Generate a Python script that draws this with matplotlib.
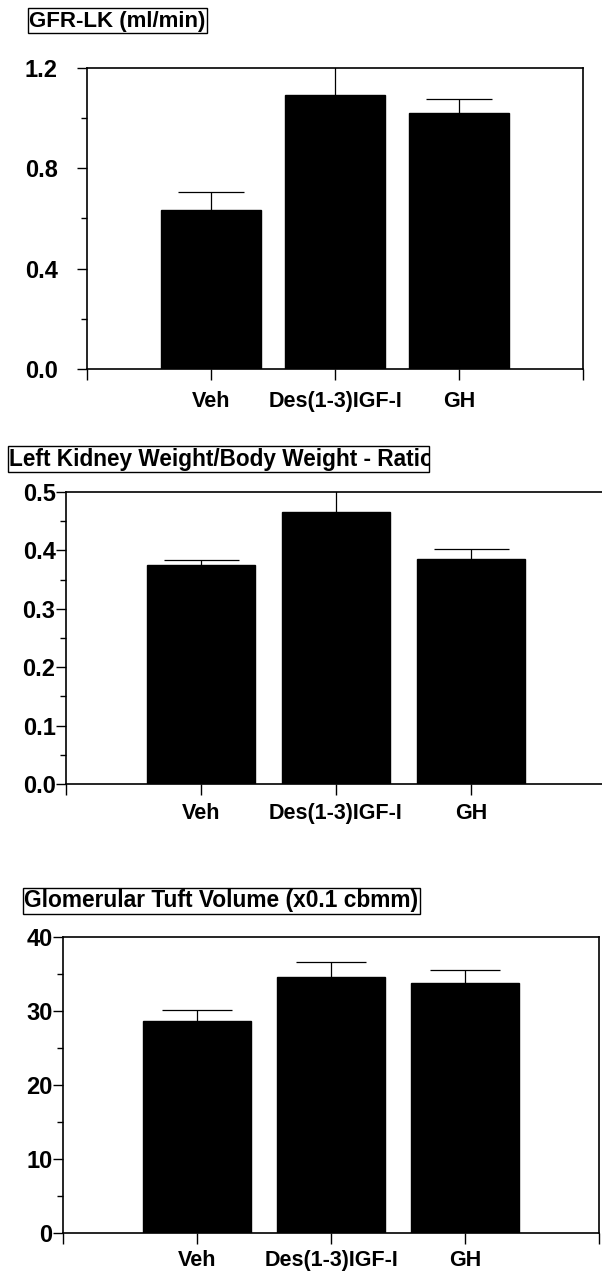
import matplotlib
matplotlib.use("Agg")
import matplotlib.pyplot as plt
from matplotlib.ticker import MultipleLocator, FormatStrFormatter
from matplotlib.patches import Rectangle

plt.rcParams['font.family'] = ['Liberation Sans', 'DejaVu Sans']
plt.rcParams['font.weight'] = 'bold'

# data
groups = ['Veh', 'Des(1-3)IGF-I', 'GH']
gfr = [0.632, 1.092, 1.02]
gfr_sem = [0.072, 0.14, 0.056]
kidney_ratio = [0.375, 0.465, 0.385]
kidney_sem = [0.008, 0.05, 0.017]
tuft_vol = [28.6, 34.6, 33.8]
tuft_sem = [1.5, 2.0, 1.8]

titles = ['GFR-LK (ml/min)',
          'Left Kidney Weight/Body Weight - Ratio',
          'Glomerular Tuft Volume (x0.1 cbmm)']

W, H = 602, 1274
fig = plt.figure(figsize=(W / 100, H / 100), dpi=100)


def px_rect(x0, x1, ytop, ybot):
    # pixel box -> figure fraction [left, bottom, width, height]
    return [x0 / W, 1 - ybot / H, (x1 - x0) / W, (ybot - ytop) / H]


def panel(rect, vals, errs, ymax, major, minor, fmt, capsize, ypad, xpad):
    ax = fig.add_axes(rect)
    x = [1, 2, 3]
    ax.bar(x, vals, width=0.8, color='black', edgecolor='black', zorder=2)
    eb = ax.errorbar(x, vals, yerr=[[0, 0, 0], errs], fmt='none',
                     ecolor='black', elinewidth=0.9, capsize=capsize,
                     capthick=0.9, zorder=3)
    # only the upper cap is drawn in the original
    for cap in eb[1]:
        if list(cap.get_ydata()) == list(vals):
            cap.remove()
    ax.set_xlim(0, 4)
    ax.set_ylim(0, ymax)
    ax.set_xticks([0, 1, 2, 3, 4])
    ax.set_xticklabels([''] + groups + [''])
    ax.yaxis.set_major_locator(MultipleLocator(major))
    ax.yaxis.set_minor_locator(MultipleLocator(minor))
    ax.yaxis.set_major_formatter(FormatStrFormatter(fmt))
    ax.tick_params(axis='y', which='major', length=7.5, width=1.0,
                   labelsize=17, pad=ypad)
    ax.tick_params(axis='y', which='minor', length=4.5, width=1.0)
    ax.tick_params(axis='x', length=8, width=1.0, labelsize=15.5, pad=xpad)
    for s in ax.spines.values():
        s.set_linewidth(1.2)
    return ax


panel(px_rect(87, 583, 68, 369), gfr, gfr_sem, 1.2, 0.4, 0.2, '%.1f',
      24, 13.5, 8)
panel(px_rect(66, 606, 492, 784), kidney_ratio, kidney_sem, 0.5, 0.1, 0.05,
      '%.1f', 27, 0, 6)
panel(px_rect(63, 599, 937, 1233), tuft_vol, tuft_sem, 40, 10, 5, '%d',
      25, 0, 4.5)

# boxed titles (the middle one is cut off by its box, as in the original)
title_pos = [(29, 21, 16), (9, 460, 16.3), (24, 901, 16.4)]
box_right = [None, 429, None]
renderer = fig.canvas.get_renderer()
for title, (tx, ty, fs), br in zip(titles, title_pos, box_right):
    t = fig.text(tx / W, 1 - ty / H, title, fontsize=fs,
                 fontweight='bold', ha='left', va='center')
    ext = t.get_window_extent(renderer)
    x0, x1 = ext.x0 - 1.5, ext.x1 + 1.5
    if br is not None:
        x1 = br
    y0, y1 = ext.y0 - 1, ext.y1 + 2
    r = Rectangle((x0 / W, y0 / H), (x1 - x0) / W, (y1 - y0) / H,
                  transform=fig.transFigure, fill=False, edgecolor='black',
                  linewidth=1.0)
    fig.add_artist(r)
    t.set_clip_path(r)

fig.savefig('out.png', dpi=100)
